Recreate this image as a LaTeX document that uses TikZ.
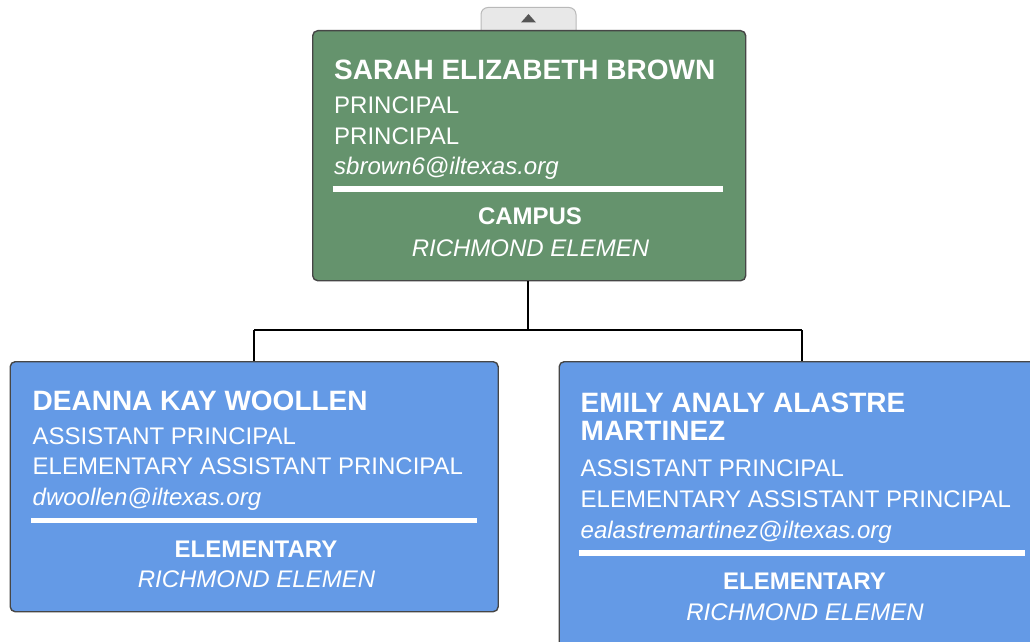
\documentclass[tikz,border=0pt]{standalone}
\usepackage{fontspec}
\setmainfont{Liberation Sans}
\definecolor{boxgreen}{RGB}{101,147,109}
\definecolor{boxblue}{RGB}{100,154,230}
\definecolor{boxedge}{RGB}{70,70,70}
\definecolor{tabfill}{RGB}{232,232,232}
\definecolor{tabedge}{RGB}{185,185,185}
\definecolor{tabarrow}{RGB}{85,85,85}
\begin{document}
\begin{tikzpicture}[x=1pt,y=-1pt,
  card/.style={draw=boxedge,line width=1.4pt,rounded corners=5pt},
  nametxt/.style={anchor=base west,inner sep=0pt,text=white,font=\fontsize{28}{28}\selectfont\bfseries},
  linetxt/.style={anchor=base west,inner sep=0pt,text=white,font=\fontsize{24}{24}\selectfont},
  mailtxt/.style={anchor=base west,inner sep=0pt,text=white,font=\fontsize{24}{24}\selectfont\itshape},
  headtxt/.style={anchor=base,inner sep=0pt,text=white,font=\fontsize{24}{24}\selectfont\bfseries},
  sitetxt/.style={anchor=base,inner sep=0pt,text=white,font=\fontsize{24}{24}\selectfont\itshape},
  rule/.style={draw=white,line width=5.5pt},
  link/.style={draw=black,line width=1.8pt}]
\useasboundingbox (0,0) rectangle (1030,642);
\fill[white] (0,0) rectangle (1030,642);
\clip (0,0) rectangle (1030,642);
% collapse tab
\filldraw[fill=tabfill,draw=tabedge,line width=1pt,rounded corners=7pt] (481,31) -- (481,7.5) -- (576,7.5) -- (576,31);
\fill[tabarrow] (521,22.5) -- (536,22.5) -- (528.5,14) -- cycle;
% cards
\node[card,fill=boxgreen,anchor=north west,minimum width=433pt,minimum height=250pt,inner sep=0pt] (top) at (312,30) {};
\node[card,fill=boxblue,anchor=north west,minimum width=488pt,minimum height=250pt,inner sep=0pt] (left) at (9.5,361) {};
\node[card,fill=boxblue,anchor=north west,minimum width=500pt,minimum height=300pt,inner sep=0pt] (right) at (558.5,361) {};
% connectors
\coordinate (j1) at (528,330);
\coordinate (jl) at (254,330);
\coordinate (jr) at (802,330);
\draw[link] (top.south -| j1) -- (j1);
\draw[link] (jl) -- (jr);
\draw[link] (jl) -- (jl |- left.north);
\draw[link] (jr) -- (jr |- right.north);
% top card text
\node[nametxt] (tname) at (334,79) {SARAH ELIZABETH BROWN};
\node[linetxt] (tpos) at (334,113) {PRINCIPAL};
\node[linetxt] (ttitle) at (334,144) {PRINCIPAL};
\node[mailtxt] (tmail) at (334,174.5) {sbrown6@iltexas.org};
\coordinate (tr1) at (332.5,189);
\coordinate (tr2) at (723,189);
\draw[rule] (tr1) -- (tr2);
\node[headtxt] (thead) at (530,224) {CAMPUS};
\node[sitetxt] (tsite) at (530.5,256) {RICHMOND ELEMEN};
% left card text
\node[nametxt] (lname) at (32.5,410) {DEANNA KAY WOOLLEN};
\node[linetxt] (lpos) at (32.5,444) {ASSISTANT PRINCIPAL};
\node[linetxt] (ltitle) at (32.5,474.5) {ELEMENTARY ASSISTANT PRINCIPAL};
\node[mailtxt] (lmail) at (32.5,505) {dwoollen@iltexas.org};
\coordinate (lr1) at (31,520.5);
\coordinate (lr2) at (477,520.5);
\draw[rule] (lr1) -- (lr2);
\node[headtxt] (lhead) at (256,557) {ELEMENTARY};
\node[sitetxt] (lsite) at (256.5,587) {RICHMOND ELEMEN};
% right card text
\node[nametxt] (rname1) at (580.5,412.5) {EMILY ANALY ALASTRE};
\node[nametxt] (rname2) at (580.5,440.5) {MARTINEZ};
\node[linetxt] (rpos) at (580.5,476.5) {ASSISTANT PRINCIPAL};
\node[linetxt] (rtitle) at (580.5,507.5) {ELEMENTARY ASSISTANT PRINCIPAL};
\node[mailtxt] (rmail) at (580.5,538) {ealastremartinez@iltexas.org};
\coordinate (rr1) at (579,553);
\coordinate (rr2) at (1025,553);
\draw[rule] (rr1) -- (rr2);
\node[headtxt] (rhead) at (804.5,589) {ELEMENTARY};
\node[sitetxt] (rsite) at (805,620) {RICHMOND ELEMEN};
\end{tikzpicture}
\end{document}
